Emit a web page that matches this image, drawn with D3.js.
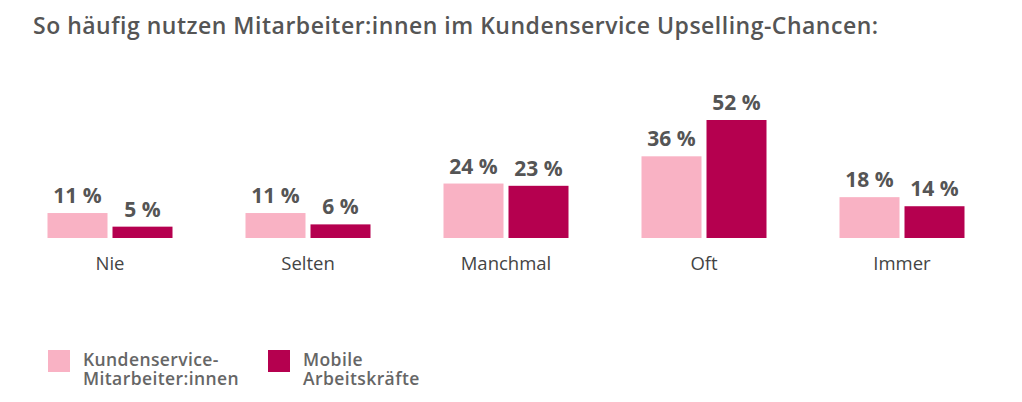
<!DOCTYPE html>
<html>
<head>
<meta charset="utf-8">
<script src="https://cdn.jsdelivr.net/npm/d3@7"></script>
<style>
  body { margin: 0; background: #fff; }
  text { font-family: "Open Sans", "Noto Sans", sans-serif; }
</style>
</head>
<body>
<div id="chart"></div>
<script>
var categories = ["Nie", "Selten", "Manchmal", "Oft", "Immer"];
var series_names = [["Kundenservice-", "Mitarbeiter:innen"], ["Mobile", "Arbeitskräfte"]];
var kundenservice = [11, 11, 24, 36, 18];
var mobile = [5, 6, 23, 52, 14];
var colors = ["#f9b2c4", "#b5004f"];

var width = 1022, height = 402;
var baseline = 238;

var svg = d3.select("#chart").append("svg")
  .attr("width", width)
  .attr("height", height);

svg.append("text")
  .attr("x", 33)
  .attr("y", 34)
  .style("font-size", "23px")
  .style("font-weight", "600")
  .style("letter-spacing", "0.5px")
  .style("fill", "#555")
  .text("So häufig nutzen Mitarbeiter:innen im Kundenservice Upselling-Chancen:");

var x = d3.scalePoint().domain(categories).range([110, 902]);
var y = d3.scaleLinear().domain([0, 52]).range([baseline, 120]);

var barW = 60, gap = 5;

var data = [];
categories.forEach(function(c, i) {
  data.push({cat: c, s: 0, v: kundenservice[i]});
  data.push({cat: c, s: 1, v: mobile[i]});
});

function barX(d) {
  return d.s == 0 ? x(d.cat) - gap / 2 - barW : x(d.cat) + gap / 2;
}

svg.selectAll("rect.bar")
  .data(data)
  .enter()
  .append("rect")
  .attr("class", "bar")
  .attr("x", barX)
  .attr("y", function(d) { return y(d.v); })
  .attr("width", barW)
  .attr("height", function(d) { return baseline - y(d.v); })
  .attr("fill", function(d) { return colors[d.s]; });

svg.selectAll("text.val")
  .data(data)
  .enter()
  .append("text")
  .attr("class", "val")
  .attr("x", function(d) { return barX(d) + barW / 2; })
  .attr("y", function(d) { return y(d.v) - 10; })
  .attr("text-anchor", "middle")
  .style("font-size", "21px")
  .style("font-weight", "700")
  .style("fill", "#555")
  .text(function(d) { return d.v + " %"; });

svg.selectAll("text.cat")
  .data(categories)
  .enter()
  .append("text")
  .attr("class", "cat")
  .attr("x", function(d) { return x(d); })
  .attr("y", 270)
  .attr("text-anchor", "middle")
  .style("font-size", "18.5px")
  .style("fill", "#444")
  .text(function(d) { return d; });

// legend
var legend = svg.selectAll("g.leg")
  .data(series_names)
  .enter()
  .append("g")
  .attr("class", "leg")
  .attr("transform", function(d, i) { return "translate(" + (48 + i * 220) + ",350)"; });

legend.append("rect")
  .attr("width", 22)
  .attr("height", 22)
  .attr("fill", function(d, i) { return colors[i]; });

legend.selectAll("text")
  .data(function(d) { return d; })
  .enter()
  .append("text")
  .attr("x", 35)
  .attr("y", function(d, i) { return 16 + i * 19; })
  .style("font-size", "17.5px")
  .style("font-weight", "600")
  .style("letter-spacing", "0.4px")
  .style("fill", "#666")
  .text(function(d) { return d; });
</script>
</body>
</html>
